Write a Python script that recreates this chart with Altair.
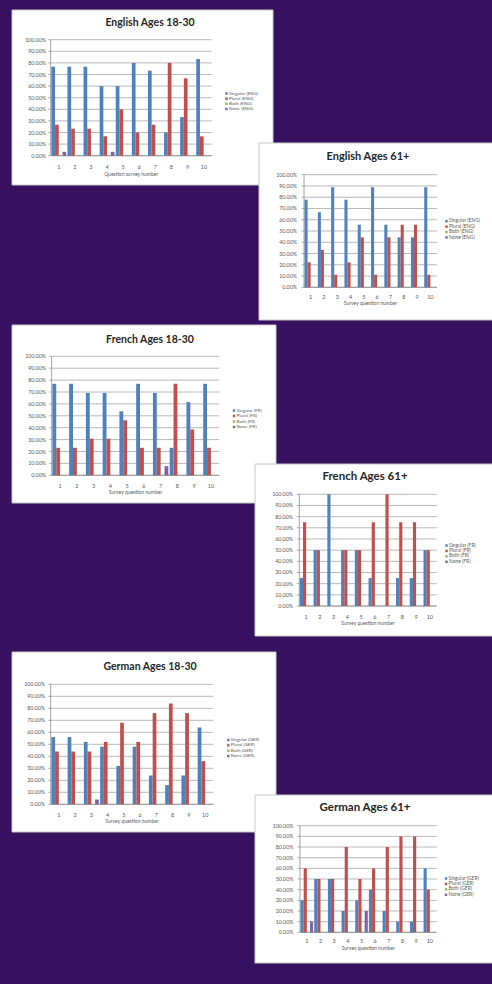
import altair as alt
import pandas as pd

# ---------------- data ----------------
questions = [1, 2, 3, 4, 5, 6, 7, 8, 9, 10]
series = ["Singular", "Plural", "Both", "None"]
colors = ["#4F81BD", "#C0504D", "#9BBB59", "#8064A2"]
tick_values = [0.0, 0.1, 0.2, 0.3, 0.4, 0.5, 0.6, 0.7, 0.8, 0.9, 1.0]

titles = ["English Ages 18-30", "English Ages 61+", "French Ages 18-30",
          "French Ages 61+", "German Ages 18-30", "German Ages 61+"]
suffixes = ["ENG", "ENG", "FR", "FR", "GER", "GER"]
x_titles = ["Question survey number", "Survey question number", "Survey question number",
            "Survey question number", "Survey question number", "Survey question number"]

eng_young_singular = [0.767, 0.767, 0.767, 0.600, 0.600, 0.800, 0.733, 0.200, 0.333, 0.833]
eng_young_plural = [0.267, 0.233, 0.233, 0.167, 0.400, 0.200, 0.267, 0.800, 0.667, 0.167]
eng_young_both = [0, 0, 0, 0, 0, 0, 0, 0, 0, 0]
eng_young_none = [0.033, 0, 0, 0.033, 0, 0, 0, 0, 0, 0]

eng_old_singular = [0.778, 0.667, 0.889, 0.778, 0.556, 0.889, 0.556, 0.444, 0.444, 0.889]
eng_old_plural = [0.222, 0.333, 0.111, 0.222, 0.444, 0.111, 0.444, 0.556, 0.556, 0.111]
eng_old_both = [0, 0, 0, 0, 0, 0, 0, 0, 0, 0]
eng_old_none = [0, 0, 0, 0, 0, 0, 0, 0, 0, 0]

fr_young_singular = [0.769, 0.769, 0.692, 0.692, 0.538, 0.769, 0.692, 0.231, 0.615, 0.769]
fr_young_plural = [0.231, 0.231, 0.308, 0.308, 0.462, 0.231, 0.231, 0.769, 0.385, 0.231]
fr_young_both = [0, 0, 0, 0, 0, 0, 0, 0, 0, 0]
fr_young_none = [0, 0, 0, 0, 0, 0, 0.077, 0, 0, 0]

fr_old_singular = [0.25, 0.5, 1.0, 0.5, 0.5, 0.25, 0, 0.25, 0.25, 0.5]
fr_old_plural = [0.75, 0.5, 0, 0.5, 0.5, 0.75, 1.0, 0.75, 0.75, 0.5]
fr_old_both = [0, 0, 0, 0, 0, 0, 0, 0, 0, 0]
fr_old_none = [0, 0, 0, 0, 0, 0, 0, 0, 0, 0]

ger_young_singular = [0.56, 0.56, 0.52, 0.48, 0.32, 0.48, 0.24, 0.16, 0.24, 0.64]
ger_young_plural = [0.44, 0.44, 0.44, 0.52, 0.68, 0.52, 0.76, 0.84, 0.76, 0.36]
ger_young_both = [0, 0, 0, 0, 0, 0, 0, 0, 0, 0]
ger_young_none = [0, 0, 0.04, 0, 0, 0, 0, 0, 0, 0]

ger_old_singular = [0.3, 0.5, 0.5, 0.2, 0.3, 0.4, 0.2, 0.1, 0.1, 0.6]
ger_old_plural = [0.6, 0.5, 0.5, 0.8, 0.5, 0.6, 0.8, 0.9, 0.9, 0.4]
ger_old_both = [0, 0, 0, 0, 0, 0, 0, 0, 0, 0]
ger_old_none = [0.1, 0, 0, 0, 0.2, 0, 0, 0, 0, 0]

panel_values = [
    [eng_young_singular, eng_young_plural, eng_young_both, eng_young_none],
    [eng_old_singular, eng_old_plural, eng_old_both, eng_old_none],
    [fr_young_singular, fr_young_plural, fr_young_both, fr_young_none],
    [fr_old_singular, fr_old_plural, fr_old_both, fr_old_none],
    [ger_young_singular, ger_young_plural, ger_young_both, ger_young_none],
    [ger_old_singular, ger_old_plural, ger_old_both, ger_old_none],
]

# ---------------- layout (pixels) ----------------
layout = [
    dict(box=(12, 10, 273, 185), px=(50.7, 211.7), py=(155.7, 39.7), ylab=46, xl=167, xt=173.5,
         title=(150, 23, 10.5), lx=226.5, ly=(93.5, 109), lfs=4.6),
    dict(box=(259, 143, 496, 320), px=(304, 437), py=(287.3, 174.7), ylab=297, xl=297, xt=302.5,
         title=(368, 157, 11), lx=446.5, ly=(221.3, 237.5), lfs=4.9),
    dict(box=(12, 325, 276, 503), px=(51.7, 219.3), py=(475.3, 356.3), ylab=46, xl=486, xt=491.5,
         title=(150, 340, 10.5), lx=234, ly=(410.5, 427), lfs=4.6),
    dict(box=(255, 464, 496, 636), px=(299.3, 436.7), py=(606, 494.3), ylab=293, xl=617, xt=622.5,
         title=(365, 477, 11.5), lx=446.5, ly=(545.5, 561.8), lfs=4.9),
    dict(box=(12, 652, 276, 832), px=(50.7, 213.3), py=(804.3, 684.3), ylab=45, xl=815.3, xt=820.5,
         title=(150, 667, 10.5), lx=228.3, ly=(740, 756), lfs=4.6),
    dict(box=(255, 795, 496, 963), px=(300, 436.7), py=(932.3, 825.7), ylab=293.5, xl=941.3, xt=948,
         title=(365, 808, 11.5), lx=446, ly=(878.5, 894.8), lfs=4.9),
]

one_row = pd.DataFrame({"k": [0]})
tick_df = pd.DataFrame({"t": tick_values})
q_df = pd.DataFrame({"q": questions})
color_scale = alt.Scale(domain=series, range=colors)
TXT = "#595959"
FONT = "Lato"


def build_panel(i):
    g = layout[i]
    bx0, by0, bx1, by1 = g["box"]
    px0, px1 = g["px"]
    pyb, pyt = g["py"]
    xs = alt.Scale(domain=questions, range=[px0, px1], paddingInner=0.08, paddingOuter=0.04)
    ys = alt.Scale(domain=[0, 1], range=[pyb, pyt], nice=False, zero=True)

    rows = []
    for s, vals in zip(series, panel_values[i]):
        for q, v in zip(questions, vals):
            rows.append({"q": q, "series": s, "v": v})
    bar_df = pd.DataFrame(rows)
    leg_df = pd.DataFrame({"series": series,
                           "label": [f"{s} ({suffixes[i]})" for s in series]})

    bg = alt.Chart(one_row).mark_rect(fill="white", stroke="#c8c8c8", strokeWidth=1).encode(
        x=alt.value(bx0), x2=alt.value(bx1), y=alt.value(by0), y2=alt.value(by1))
    grid = alt.Chart(tick_df).mark_rule(color="#a0a0a0", strokeWidth=0.75).encode(
        y=alt.Y("t:Q", scale=ys, axis=None), x=alt.value(px0), x2=alt.value(px1))
    yticks = alt.Chart(tick_df).mark_rule(color="#8a8a8a", strokeWidth=0.7).encode(
        y=alt.Y("t:Q", scale=ys, axis=None), x=alt.value(px0 - 2.5), x2=alt.value(px0))
    yaxis = alt.Chart(one_row).mark_rule(color="#8a8a8a", strokeWidth=0.8).encode(
        x=alt.value(px0), y=alt.value(pyt), y2=alt.value(pyb))
    xaxis = alt.Chart(one_row).mark_rule(color="#8a8a8a", strokeWidth=0.8).encode(
        x=alt.value(px0), x2=alt.value(px1), y=alt.value(pyb))
    bars = alt.Chart(bar_df).mark_bar().encode(
        x=alt.X("q:O", scale=xs, axis=None),
        xOffset=alt.XOffset("series:N", scale=alt.Scale(domain=series, paddingInner=0, paddingOuter=0)),
        y=alt.Y("v:Q", scale=ys, axis=None),
        color=alt.Color("series:N", scale=color_scale, legend=None),
    )
    ylabels = alt.Chart(tick_df).mark_text(align="right", baseline="middle", fontSize=5.3,
                                          color=TXT, font=FONT).encode(
        y=alt.Y("t:Q", scale=ys, axis=None), x=alt.value(g["ylab"]),
        text=alt.Text("t:Q", format=".2%"))
    xlabels = alt.Chart(q_df).mark_text(align="center", baseline="middle", fontSize=5.5,
                                       color=TXT, font=FONT).encode(
        x=alt.X("q:O", scale=xs, axis=None), y=alt.value(g["xl"]), text="q:O")
    xtitle = alt.Chart(one_row).mark_text(align="center", baseline="middle", fontSize=5,
                                          color=TXT, font=FONT).encode(
        x=alt.value((px0 + px1) / 2), y=alt.value(g["xt"]), text=alt.value(x_titles[i]))
    tx, ty, tsize = g["title"]
    title = alt.Chart(one_row).mark_text(align="center", baseline="middle", fontSize=tsize,
                                         fontWeight="bold", color="#262626", font=FONT).encode(
        x=alt.value(tx), y=alt.value(ty), text=alt.value(titles[i]))
    lys = alt.Scale(type="point", domain=series, range=list(g["ly"]), padding=0)
    leg_sq = alt.Chart(leg_df).mark_square(size=6, opacity=1).encode(
        x=alt.value(g["lx"]), y=alt.Y("series:N", scale=lys, axis=None),
        color=alt.Color("series:N", scale=color_scale, legend=None))
    leg_tx = alt.Chart(leg_df).mark_text(align="left", baseline="middle", fontSize=g["lfs"],
                                        color=TXT, font=FONT).encode(
        x=alt.value(g["lx"] + 2.5), y=alt.Y("series:N", scale=lys, axis=None), text="label:N")
    return [bg, grid, yticks, yaxis, xaxis, bars, ylabels, xlabels, xtitle, title, leg_sq, leg_tx]


layers = []
for i in range(6):
    layers.extend(build_panel(i))

chart = alt.layer(*layers).resolve_scale(
    x="independent", y="independent", xOffset="independent", color="independent"
).properties(
    width=492, height=984, background="#37105f", padding=0,
    autosize=alt.AutoSizeParams(type="none"),
).configure_view(stroke=None)

chart.save("out.html", embed_options={"renderer": "svg", "actions": False})
